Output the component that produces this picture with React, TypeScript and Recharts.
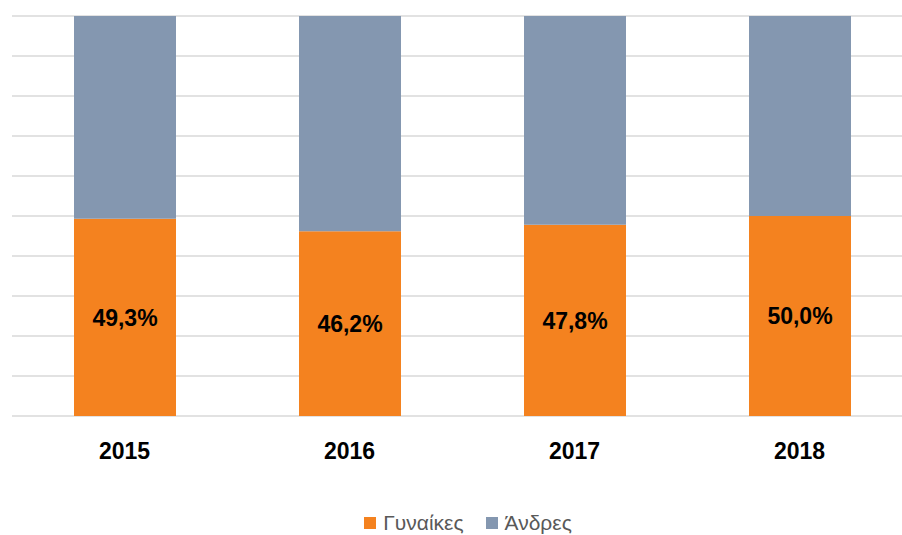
import { Bar, BarChart, CartesianGrid, LabelList, Legend, XAxis, YAxis } from 'recharts'

const YEARS = ['2015', '2016', '2017', '2018']
const WOMEN = [49.3, 46.2, 47.8, 50.0]
const MEN = [50.7, 53.8, 52.2, 50.0]
const Y_TICKS = [0, 10, 20, 30, 40, 50, 60, 70, 80, 90, 100]

const ORANGE = '#F4821F'
const BLUE = '#8497B0'
const FONT = '"Liberation Sans", Arial, sans-serif'

const data = YEARS.map((year, i) => ({ year, women: WOMEN[i], men: MEN[i] }))

const fmt = (v: unknown) => `${Number(v).toFixed(1).replace('.', ',')}%`

function LegendBox() {
  const items = [
    { label: 'Γυναίκες', color: ORANGE },
    { label: 'Άνδρες', color: BLUE },
  ]
  return (
    <div style={{ display: 'flex', justifyContent: 'center', gap: 22, fontFamily: FONT, fontSize: 21, color: '#595959', lineHeight: '26px' }}>
      {items.map((it) => (
        <div key={it.label} style={{ display: 'flex', alignItems: 'center', gap: 7 }}>
          <span style={{ width: 12, height: 12, background: it.color, display: 'inline-block' }} />
          <span>{it.label}</span>
        </div>
      ))}
    </div>
  )
}

export default function App() {
  return (
    <div style={{ position: 'absolute', left: 0, top: 0, width: 902, height: 535, overflow: 'hidden', background: '#fff' }}>
      <BarChart
        width={920}
        height={535}
        data={data}
        margin={{ top: 16, right: 8, left: 12, bottom: 0 }}
        style={{ fontFamily: FONT }}
      >
        <CartesianGrid vertical={false} stroke="#D9D9D9" strokeWidth={1.5} />
        <YAxis hide domain={[0, 100]} ticks={Y_TICKS} />
        <XAxis
          dataKey="year"
          height={93}
          axisLine={false}
          tickLine={false}
          tickMargin={21}
          tick={{ fontSize: 23, fontWeight: 700, fill: '#000' }}
        />
        <Legend
          verticalAlign="bottom"
          content={<LegendBox />}
          wrapperStyle={{ left: 8, width: 920, top: 510, height: 26 }}
        />
        <Bar dataKey="women" stackId="a" fill={ORANGE} barSize={102} isAnimationActive={false}>
          <LabelList
            dataKey="women"
            position="center"
            formatter={fmt}
            style={{ fontSize: 23, fontWeight: 700, fill: '#000' }}
          />
        </Bar>
        <Bar dataKey="men" stackId="a" fill={BLUE} barSize={102} isAnimationActive={false} />
      </BarChart>
    </div>
  )
}
